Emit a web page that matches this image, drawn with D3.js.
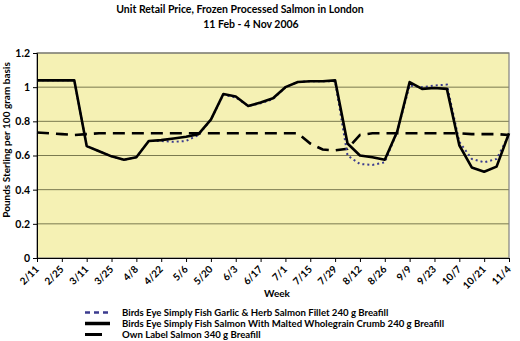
<!DOCTYPE html>
<html><head><meta charset="utf-8">
<script src="https://cdn.jsdelivr.net/npm/d3@7"></script>
<style>
body{margin:0;background:#fff;}
text{font-family:Lato,"Open Sans",sans-serif;font-weight:700;fill:#000;}
</style></head>
<body><svg id="c" width="520" height="341"></svg>
<script>
const weeks = ["2/11","2/18","2/25","3/4","3/11","3/18","3/25","4/1","4/8","4/15","4/22","4/29","5/6","5/13","5/20","5/27","6/3","6/10","6/17","6/24","7/1","7/8","7/15","7/22","7/29","8/5","8/12","8/19","8/26","9/2","9/9","9/16","9/23","9/30","10/7","10/14","10/21","10/28","11/4"];
const tickLabels = ["2/11","2/25","3/11","3/25","4/8","4/22","5/6","5/20","6/3","6/17","7/1","7/15","7/29","8/12","8/26","9/9","9/23","10/7","10/21","11/4"];
const garlicHerb = [1.04,1.04,1.04,1.04,0.655,0.625,0.595,0.575,0.59,0.685,0.685,0.68,0.685,0.72,0.81,0.955,0.94,0.89,0.905,0.93,1.0,1.03,1.035,1.035,1.035,0.60,0.55,0.545,0.56,0.74,1.01,1.0,1.01,1.015,0.68,0.58,0.56,0.58,0.72];
const maltedCrumb = [1.04,1.04,1.04,1.04,0.655,0.625,0.595,0.575,0.59,0.685,0.69,0.70,0.71,0.725,0.81,0.96,0.945,0.89,0.91,0.935,1.0,1.03,1.035,1.035,1.04,0.67,0.60,0.59,0.575,0.74,1.03,0.99,0.995,0.99,0.66,0.53,0.505,0.535,0.73];
const ownLabel = [0.735,0.73,0.725,0.72,0.725,0.73,0.73,0.73,0.73,0.73,0.73,0.73,0.73,0.73,0.73,0.73,0.73,0.73,0.73,0.73,0.73,0.73,0.67,0.635,0.63,0.64,0.72,0.73,0.73,0.73,0.73,0.73,0.73,0.73,0.73,0.725,0.725,0.725,0.72];
const seriesNames = ["Birds Eye Simply Fish Garlic & Herb Salmon Fillet 240 g Breafill","Birds Eye Simply Fish Salmon With Malted Wholegrain Crumb 240 g Breafill","Own Label Salmon 340 g Breafill"];
const yTicks = [0,0.2,0.4,0.6,0.8,1,1.2];

const svg = d3.select("#c");
const L=37,R=509,T=53,B=258;
const x = d3.scaleLinear().domain([0,weeks.length-1]).range([L,R]);
const y = d3.scaleLinear().domain([0,1.2]).range([B,T]);

svg.append("rect").attr("x",L).attr("y",T).attr("width",R-L).attr("height",B-T).attr("fill","#f5f1b4");
svg.append("g").selectAll("line").data(yTicks.filter(v=>v>0)).join("line")
  .attr("x1",L).attr("x2",R).attr("y1",d=>y(d)).attr("y2",d=>y(d))
  .attr("stroke","#7a7a50").attr("stroke-width",1);
svg.append("rect").attr("x",L).attr("y",T).attr("width",R-L).attr("height",B-T).attr("fill","none").attr("stroke","#808080").attr("stroke-width",1.2);

const yAxis = d3.axisLeft(y).tickValues(yTicks).tickFormat(d=>d3.format("")(+d.toFixed(1))).tickSize(4).tickPadding(3);
const gy = svg.append("g").attr("transform",`translate(${L},0)`).call(yAxis);
gy.select(".domain").attr("stroke","#000");
gy.selectAll("line").attr("stroke","#000");
gy.selectAll("text").style("font-size","10.5px").attr("fill","#000");

const tickIdx = tickLabels.map(t=>weeks.indexOf(t));
const xAxis = d3.axisBottom(x).tickValues(tickIdx).tickFormat(i=>weeks[i]).tickSize(4);
const gx = svg.append("g").attr("transform",`translate(0,${B})`).call(xAxis);
gx.select(".domain").attr("stroke","#000");
gx.selectAll("line").attr("stroke","#000");
gx.selectAll("text").style("font-size","10px").attr("fill","#000")
  .attr("text-anchor","end").attr("dy",null).attr("y",0)
  .attr("transform","translate(2,12) rotate(-45)");

const line = d3.line().x((d,i)=>x(i)).y(d=>y(d));
svg.append("path").datum(ownLabel).attr("d",line).attr("fill","none").attr("stroke","#000").attr("stroke-width",2.6).attr("stroke-dasharray","12,7");
svg.append("path").datum(garlicHerb).attr("d",line).attr("fill","none").attr("stroke","#3b3b8f").attr("stroke-width",2).attr("stroke-dasharray","2,3");
svg.append("path").datum(maltedCrumb).attr("d",line).attr("fill","none").attr("stroke","#000").attr("stroke-width",2.6).attr("stroke-linejoin","round");

svg.append("text").attr("x",240).attr("y",13).attr("text-anchor","middle").style("font-size","10.5px").text("Unit Retail Price, Frozen Processed Salmon in London");
svg.append("text").attr("x",251).attr("y",28).attr("text-anchor","middle").style("font-size","10.5px").text("11 Feb  - 4 Nov 2006");
svg.append("text").attr("transform","translate(10,140) rotate(-90)").attr("text-anchor","middle").style("font-size","10px").text("Pounds Sterling per 100 gram basis");
svg.append("text").attr("x",277).attr("y",297).attr("text-anchor","middle").style("font-size","10px").text("Week");

const lg = svg.append("g");
const styles = [
  {stroke:"#3b3b8f",w:2.5,dash:"5,4",len:24},
  {stroke:"#000",w:3.5,dash:null,len:25},
  {stroke:"#000",w:3,dash:null,len:17}
];
seriesNames.forEach((n,i)=>{
  const yy = 316 + i*11;
  const s = styles[i];
  lg.append("line").attr("x1",85).attr("x2",85+s.len).attr("y1",yy-3.5).attr("y2",yy-3.5)
    .attr("stroke",s.stroke).attr("stroke-width",s.w).attr("stroke-dasharray",s.dash);
  lg.append("text").attr("x",122).attr("y",yy).style("font-size","9.6px").text(n);
});
</script></body></html>
